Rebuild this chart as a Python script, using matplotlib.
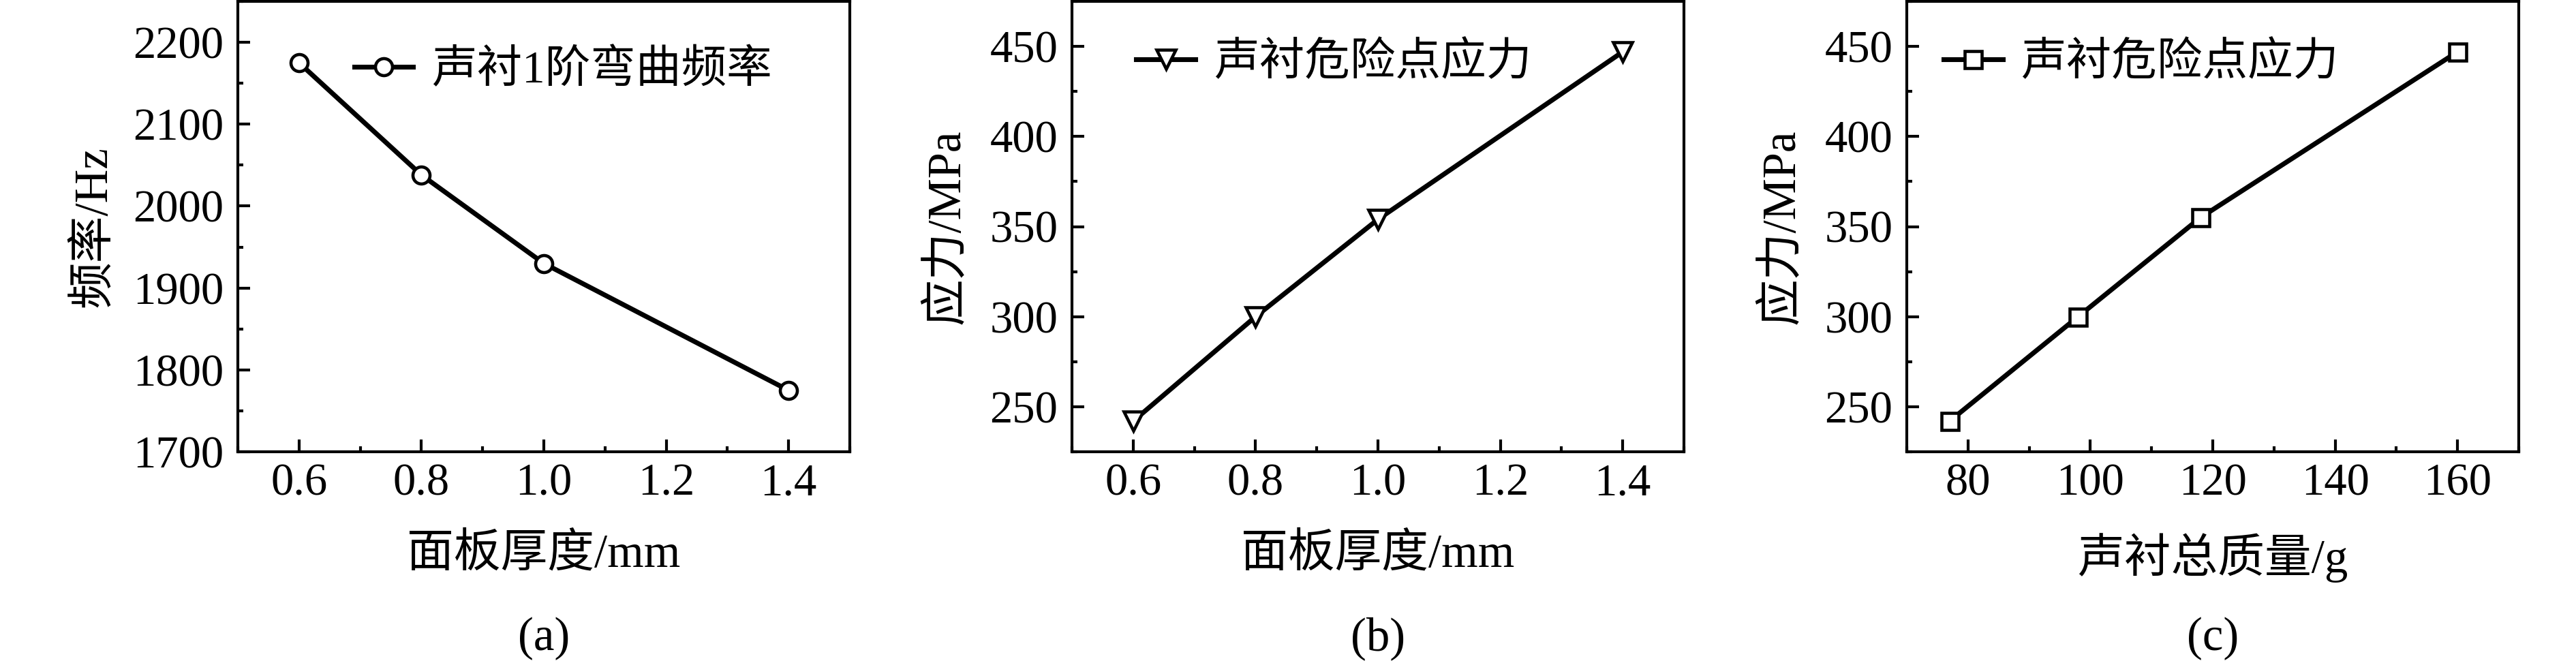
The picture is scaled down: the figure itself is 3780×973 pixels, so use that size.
import matplotlib
matplotlib.use("Agg")
import matplotlib.pyplot as plt
from matplotlib.ticker import MultipleLocator, FormatStrFormatter

plt.rcParams['font.family'] = ['Liberation Serif', 'Noto Sans CJK SC']
plt.rcParams['axes.linewidth'] = 1.0

# data
thickness = [0.6, 0.8, 1.0, 1.4]
freq = [2175, 2038, 1930, 1775]
stress = [242, 300, 354, 447]
mass = [77, 98, 118, 160]
stress_mass = [242, 300, 355, 447]

fs_tick = 16
fs_label = 16.5
fs_leg = 16
fig = plt.figure(figsize=(12.6, 973 / 300), dpi=300)

W, H = 3780, 973
def add_axes(left_px):
    return fig.add_axes([left_px / W, (H - 663) / H, 898 / W, 661 / H])

ax_a = add_axes(349)
ax_b = add_axes(1573)
ax_c = add_axes(2798)

def style(ax, xmaj, xmin, ymaj, ymin):
    ax.xaxis.set_major_locator(MultipleLocator(xmaj))
    ax.xaxis.set_minor_locator(MultipleLocator(xmin))
    ax.yaxis.set_major_locator(MultipleLocator(ymaj))
    ax.yaxis.set_minor_locator(MultipleLocator(ymin))
    ax.tick_params(which='both', direction='in', top=False, right=False,
                   labelsize=fs_tick, width=1.0)
    ax.tick_params(which='major', length=4.3)
    ax.tick_params(which='minor', length=2.0)
    ax.tick_params(axis='x', pad=4)
    ax.tick_params(axis='y', pad=5)

line_kw = dict(color='black', lw=1.7, markerfacecolor='white',
               markeredgecolor='black', markeredgewidth=1.1)
leg_kw = dict(loc='center left', frameon=False, fontsize=fs_leg, borderpad=0,
              borderaxespad=0, handlelength=1.3, handletextpad=0.4)

# (a)
ax_a.plot(thickness, freq, marker='o', ms=6, label='声衬1阶弯曲频率', **line_kw)
ax_a.set_xlim(0.5, 1.5)
ax_a.set_ylim(1700, 2250)
style(ax_a, 0.2, 0.1, 100, 50)
ax_a.xaxis.set_major_formatter(FormatStrFormatter('%.1f'))
ax_a.set_xlabel('面板厚度/mm', fontsize=fs_label, labelpad=10)
ax_a.set_ylabel('频率/Hz', fontsize=fs_label, labelpad=6)
ax_a.legend(bbox_to_anchor=(0.19, 0.846), **leg_kw)

# (b)
ax_b.plot(thickness, stress, marker='v', ms=6.5, label='声衬危险点应力', **line_kw)
ax_b.set_xlim(0.5, 1.5)
ax_b.set_ylim(225, 475)
style(ax_b, 0.2, 0.1, 50, 25)
ax_b.xaxis.set_major_formatter(FormatStrFormatter('%.1f'))
ax_b.set_xlabel('面板厚度/mm', fontsize=fs_label, labelpad=10)
ax_b.set_ylabel('应力/MPa', fontsize=fs_label, labelpad=7)
ax_b.legend(bbox_to_anchor=(0.105, 0.862), **leg_kw)

# (c)
ax_c.plot(mass, stress_mass, marker='s', ms=6, label='声衬危险点应力', **line_kw)
ax_c.set_xlim(70, 170)
ax_c.set_ylim(225, 475)
style(ax_c, 20, 10, 50, 25)
ax_c.set_xlabel('声衬总质量/g', fontsize=fs_label, labelpad=10)
ax_c.set_ylabel('应力/MPa', fontsize=fs_label, labelpad=7)
ax_c.legend(bbox_to_anchor=(0.06, 0.862), **leg_kw)

for ax, tag in zip([ax_a, ax_b, ax_c], ['(a)', '(b)', '(c)']):
    ax.text(0.5, -0.4145, tag, transform=ax.transAxes, ha='center', va='center',
            fontsize=fs_label)

fig.savefig('out.png', dpi=300)
